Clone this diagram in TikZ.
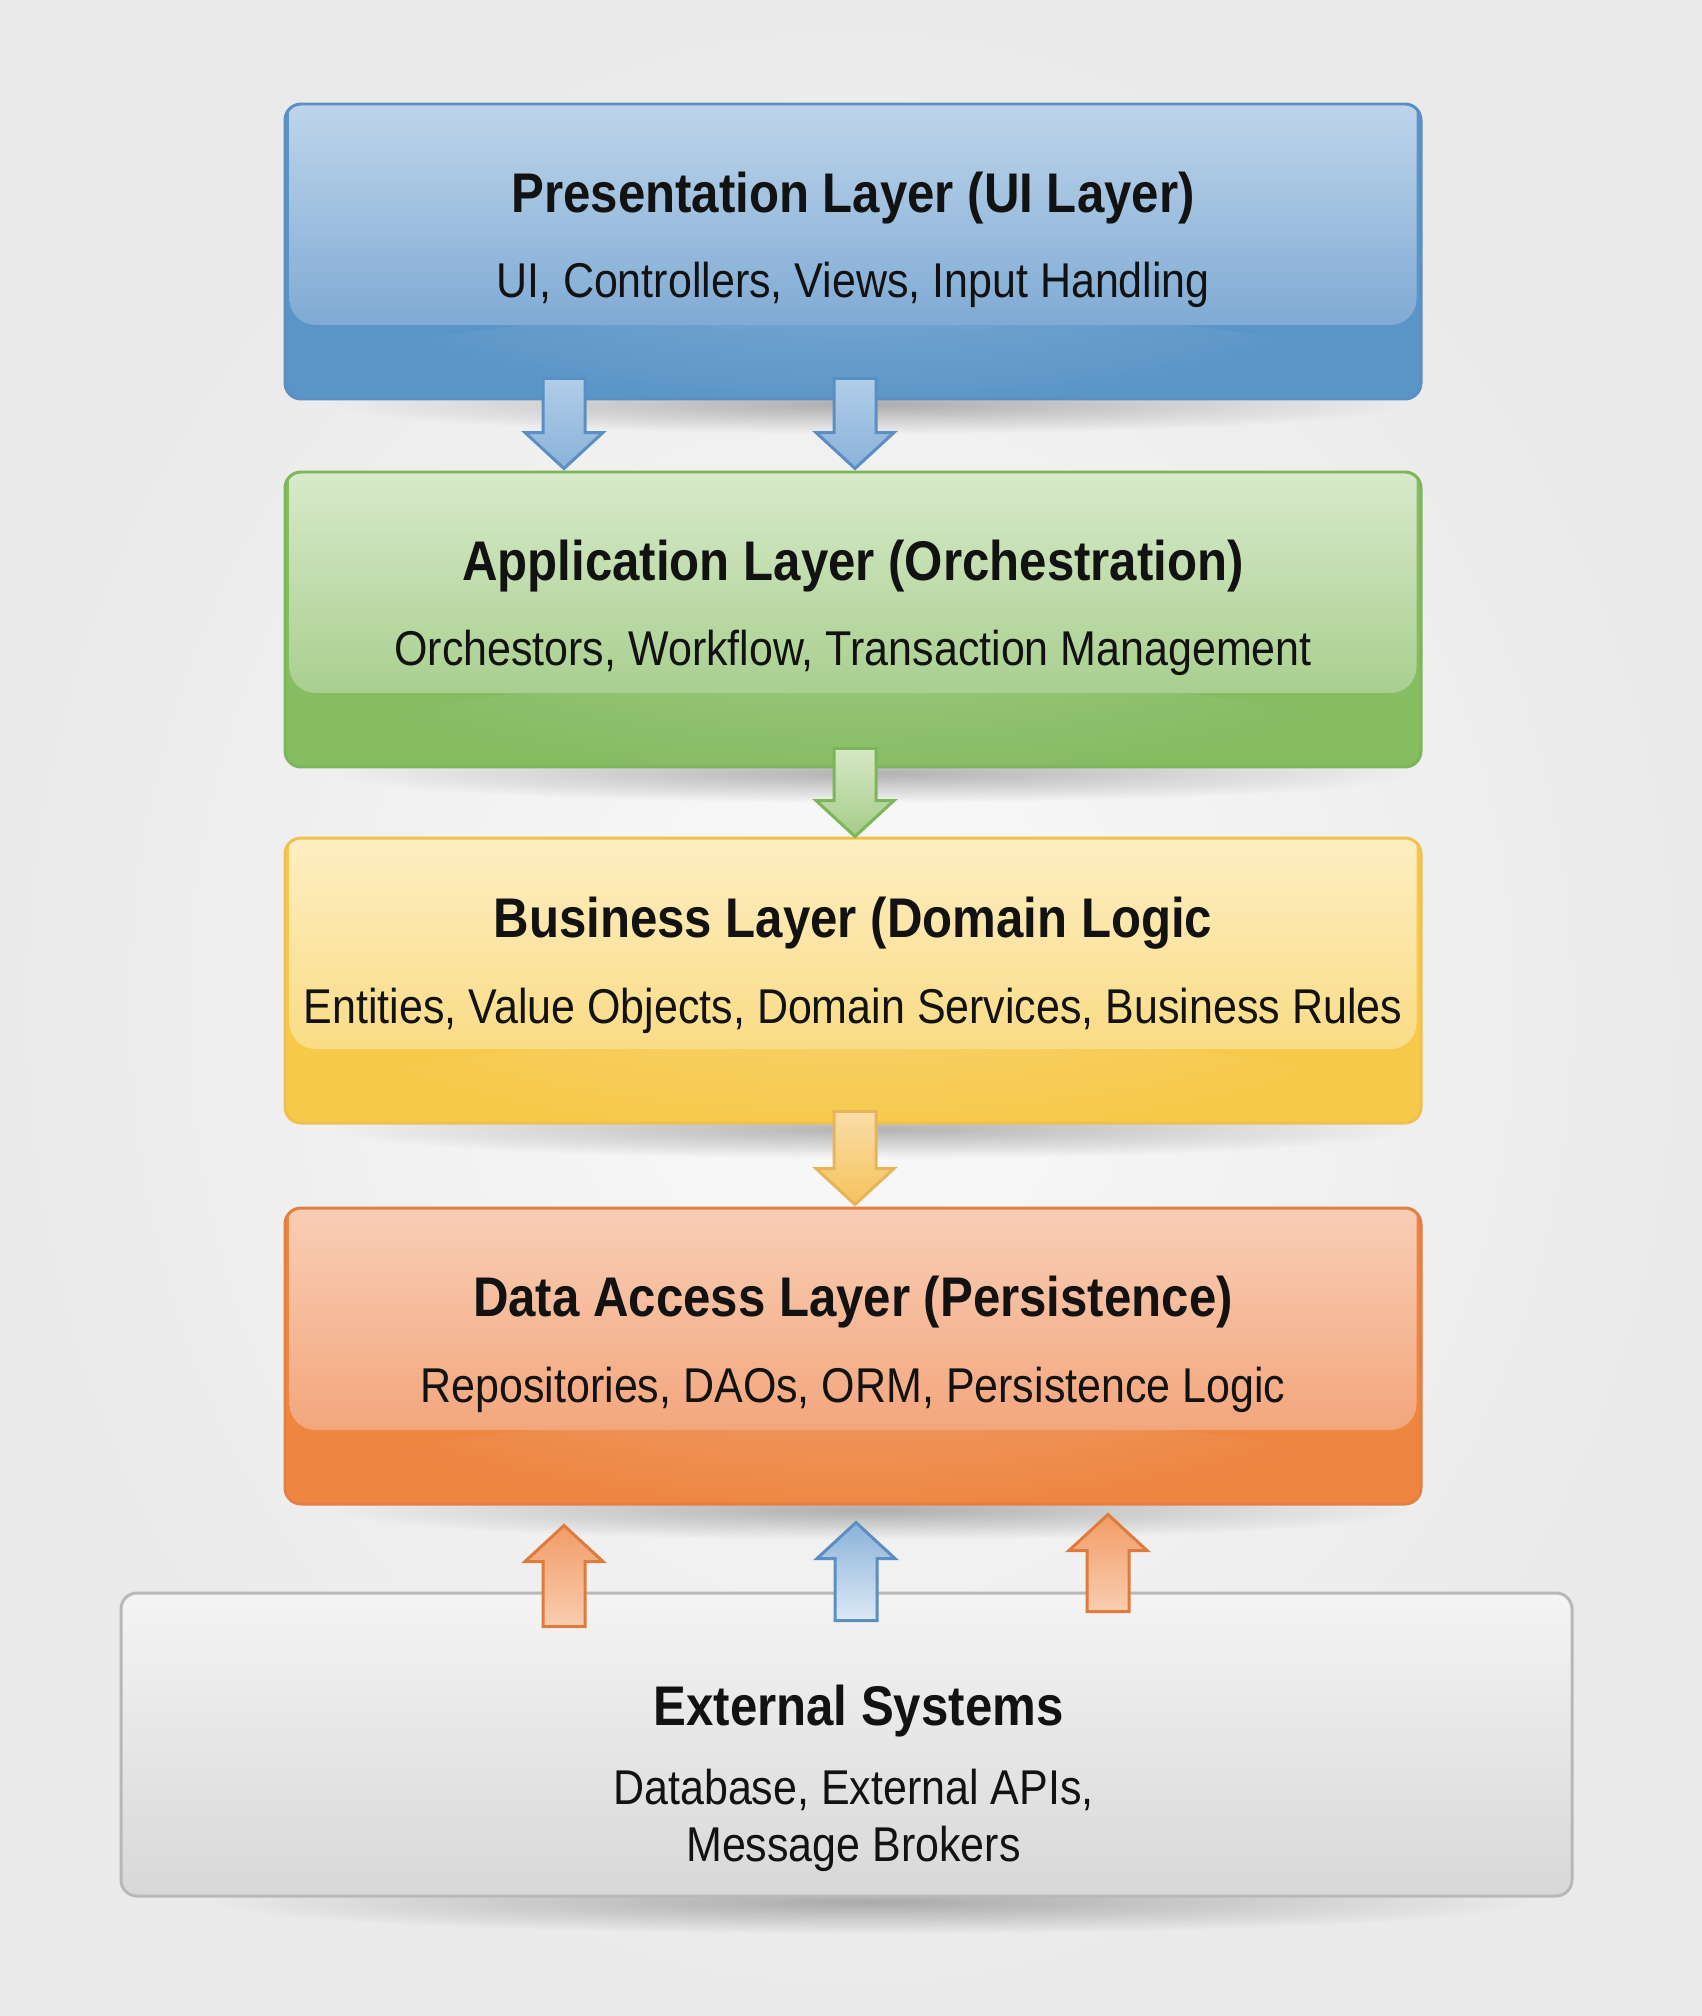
\documentclass[tikz,border=0pt]{standalone}
\usepackage{fontspec}
\setmainfont[FakeStretch=0.88]{Liberation Sans}
\usetikzlibrary{calc,fadings,positioning}
\tikzfading[name=softfade,inner color=transparent!0,outer color=transparent!100]
\definecolor{archcolor0000}{RGB}{234,234,234}
\definecolor{archcolor0001}{RGB}{250,250,250}
\definecolor{archcolor0002}{RGB}{18,18,18}
\definecolor{archcolor0010}{RGB}{90,149,200}
\definecolor{archcolor0011}{RGB}{198,219,238}
\definecolor{archcolor0012}{RGB}{128,170,212}
\definecolor{archcolor0013}{RGB}{91,142,194}
\definecolor{archcolor0020}{RGB}{134,188,98}
\definecolor{archcolor0021}{RGB}{222,237,210}
\definecolor{archcolor0022}{RGB}{169,207,143}
\definecolor{archcolor0023}{RGB}{125,181,90}
\definecolor{archcolor0030}{RGB}{247,201,74}
\definecolor{archcolor0031}{RGB}{254,241,203}
\definecolor{archcolor0032}{RGB}{250,220,134}
\definecolor{archcolor0033}{RGB}{239,192,78}
\definecolor{archcolor0040}{RGB}{238,133,65}
\definecolor{archcolor0041}{RGB}{249,211,190}
\definecolor{archcolor0042}{RGB}{243,166,124}
\definecolor{archcolor0043}{RGB}{228,126,65}
\definecolor{archcolor0050}{RGB}{244,244,244}
\definecolor{archcolor0051}{RGB}{216,216,216}
\definecolor{archcolor0052}{RGB}{184,184,184}
\definecolor{archcolor0060}{RGB}{176,205,233}
\definecolor{archcolor0061}{RGB}{138,178,217}
\definecolor{archcolor0062}{RGB}{220,233,245}
\definecolor{archcolor0070}{RGB}{214,232,198}
\definecolor{archcolor0071}{RGB}{165,204,136}
\definecolor{archcolor0080}{RGB}{249,221,168}
\definecolor{archcolor0081}{RGB}{246,195,92}
\definecolor{archcolor0082}{RGB}{232,180,90}
\definecolor{archcolor0090}{RGB}{242,156,103}
\definecolor{archcolor0091}{RGB}{249,205,176}
\definecolor{archcolor0092}{RGB}{221,124,62}

\begin{document}
\begin{tikzpicture}[x=0.1mm,y=-0.1mm
                ,lstyle1/.style n args={4}{rectangle,rounded corners=1.6mm,minimum width=113.6mm,inner sep=0pt,draw=#4,line width=0.85pt,fill=#1,path picture={
                    \fill[white,opacity=.22,path fading=softfade] ([yshift=3.7mm]path picture bounding box.south) ellipse (48mm and 5mm);
                    \shade[top color=#2,bottom color=#3,rounded corners=2.6mm] ([xshift=0.45mm,yshift=3mm]path picture bounding box.north west) rectangle ([xshift=-0.45mm,yshift=7.4mm]path picture bounding box.south east);}}
                ,lstyle2/.style={rectangle,rounded corners=1.6mm,minimum width=145.1mm,minimum height=30.3mm,inner sep=0pt,draw=archcolor0052,line width=0.85pt,top color=archcolor0050,bottom color=archcolor0051}
                ,lstyle3/.style={anchor=base,inner sep=0pt,text=archcolor0002,font=\fontsize{15.9}{19}\selectfont\bfseries}
                ,lstyle4/.style={anchor=base,inner sep=0pt,text=archcolor0002,align=center,font=\fontsize{13.9}{16.2}\selectfont}
                ,lstyle5/.style n args={3}{draw=#1,top color=#2,bottom color=#3,line width=0.85pt,line join=miter,to path={
                    ($(\tikztostart)!2.1mm!90:(\tikztotarget)$)
                    -- ($($(\tikztotarget)!3.6mm!(\tikztostart)$)!2.1mm!90:(\tikztotarget)$)
                    -- ($($(\tikztotarget)!3.6mm!(\tikztostart)$)!3.9mm!90:(\tikztotarget)$)
                    -- (\tikztotarget)
                    -- ($($(\tikztotarget)!3.6mm!(\tikztostart)$)!3.9mm!-90:(\tikztotarget)$)
                    -- ($($(\tikztotarget)!3.6mm!(\tikztostart)$)!2.1mm!-90:(\tikztotarget)$)
                    -- ($(\tikztostart)!2.1mm!-90:(\tikztotarget)$)
                    -- cycle}}
                ,lstyle6/.style={black,opacity=.28,path fading=softfade}
            ]
            \shade[inner color=archcolor0001,outer color=archcolor0000] (0,0) rectangle (1702,2016);
            \fill[lstyle6] (870,404) ellipse (54mm and 3mm);
            \fill[lstyle6] (870,773) ellipse (54mm and 3mm);
            \fill[lstyle6] (870,1129) ellipse (54mm and 3mm);
            \fill[lstyle6] (870,1510) ellipse (54mm and 3mm);
            \fill[lstyle6] (870,1902) ellipse (66mm and 3.2mm);
            \node[lstyle1={archcolor0010}{archcolor0011}{archcolor0012}{archcolor0013},minimum height=29.5mm] (pres) at (853,251.5) {};
            \node[lstyle3] (presT) at ([yshift=-11mm]pres.north) {Presentation Layer (UI Layer)};
            \node[lstyle4] (presS) at ([yshift=-19.5mm]pres.north) {UI, Controllers, Views, Input Handling};
            \node[lstyle1={archcolor0020}{archcolor0021}{archcolor0022}{archcolor0023},minimum height=29.5mm] (app) at (853,619.5) {};
            \node[lstyle3] (appT) at ([yshift=-11mm]app.north) {Application Layer (Orchestration)};
            \node[lstyle4] (appS) at ([yshift=-19.5mm]app.north) {Orchestors, Workflow, Transaction Management};
            \node[lstyle1={archcolor0030}{archcolor0031}{archcolor0032}{archcolor0033},minimum height=28.5mm] (bus) at (853,980.5) {};
            \node[lstyle3] (busT) at ([yshift=-10.1mm]bus.north) {Business Layer (Domain Logic};
            \node[lstyle4] (busS) at ([yshift=-18.7mm]bus.north) {Entities, Value Objects, Domain Services, Business Rules};
            \node[lstyle1={archcolor0040}{archcolor0041}{archcolor0042}{archcolor0043},minimum height=29.6mm] (data) at (853,1356) {};
            \node[lstyle3] (dataT) at ([yshift=-11mm]data.north) {Data Access Layer (Persistence)};
            \node[lstyle4] (dataS) at ([yshift=-19.6mm]data.north) {Repositories, DAOs, ORM, Persistence Logic};
            \node[lstyle2] (ext) at (846.5,1744.5) {};
            \node[lstyle3] (extT) at ([xshift=1.2mm,yshift=-13.4mm]ext.north) {External Systems};
            \node[lstyle4] (extS) at ([xshift=0.7mm,yshift=-27mm]ext.north) {Database, External APIs,\\Message Brokers};
            \coordinate (a1s) at ([xshift=-28.9mm,yshift=2.2mm]pres.south);
            \coordinate (a1e) at ([xshift=-28.9mm,yshift=0.2mm]app.north);
            \coordinate (a2s) at ([xshift=0.2mm,yshift=2.2mm]pres.south);
            \coordinate (a2e) at ([xshift=0.2mm,yshift=0.2mm]app.north);
            \coordinate (a3s) at ([xshift=0.2mm,yshift=2mm]app.south);
            \coordinate (a3e) at ([xshift=0.2mm]bus.north);
            \coordinate (a4s) at ([xshift=0.2mm,yshift=1.3mm]bus.south);
            \coordinate (a4e) at ([xshift=0.2mm,yshift=0.2mm]data.north);
            \coordinate (a5s) at ([xshift=-28.25mm,yshift=-3.5mm]ext.north);
            \coordinate (a5e) at ([xshift=-28.9mm,yshift=-2mm]data.south);
            \coordinate (a6s) at ([xshift=0.95mm,yshift=-2.9mm]ext.north);
            \coordinate (a6e) at ([xshift=0.3mm,yshift=-1.7mm]data.south);
            \coordinate (a7s) at ([xshift=26.15mm,yshift=-2mm]ext.north);
            \coordinate (a7e) at ([xshift=25.5mm,yshift=-0.9mm]data.south);
            \draw[lstyle5={archcolor0013}{archcolor0060}{archcolor0061}] (a1s) to (a1e);
            \draw[lstyle5={archcolor0013}{archcolor0060}{archcolor0061}] (a2s) to (a2e);
            \draw[lstyle5={archcolor0023}{archcolor0070}{archcolor0071}] (a3s) to (a3e);
            \draw[lstyle5={archcolor0082}{archcolor0080}{archcolor0081}] (a4s) to (a4e);
            \draw[lstyle5={archcolor0092}{archcolor0090}{archcolor0091}] (a5s) to (a5e);
            \draw[lstyle5={archcolor0013}{archcolor0061}{archcolor0062}] (a6s) to (a6e);
            \draw[lstyle5={archcolor0092}{archcolor0090}{archcolor0091}] (a7s) to (a7e);
        \end{tikzpicture}
\end{document}
